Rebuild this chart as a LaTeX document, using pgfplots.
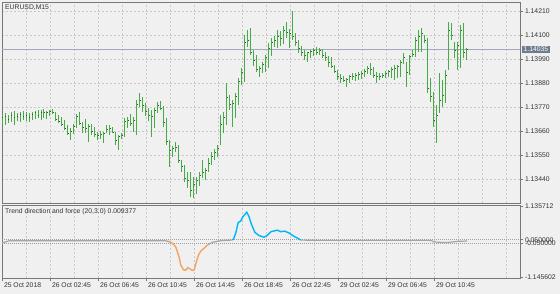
\documentclass[border=0pt]{standalone}
\usepackage{pgfplots}
\pgfplotsset{compat=1.18}
\usepackage{pgfplotstable}
\usepackage{fontspec}
\setmainfont{Liberation Sans}
\definecolor{bg}{RGB}{240,240,240}
\definecolor{gridc}{RGB}{200,200,200}
\definecolor{barc}{RGB}{70,170,70}
\definecolor{framec}{RGB}{120,120,120}
\definecolor{pricec}{RGB}{160,170,186}
\definecolor{boxc}{RGB}{112,124,142}
\definecolor{indgray}{RGB}{165,165,165}
\definecolor{indorange}{RGB}{244,164,96}
\definecolor{indblue}{RGB}{0,182,250}
\definecolor{textc}{RGB}{50,50,50}

\pgfplotstableread{
i H L C
0 1.13738 1.13692 1.13720
1 1.13743 1.13688 1.13729
2 1.13733 1.13697 1.13715
3 1.13747 1.13701 1.13733
4 1.13752 1.13688 1.13724
5 1.13743 1.13706 1.13729
6 1.13747 1.13701 1.13738
7 1.13752 1.13710 1.13729
8 1.13747 1.13706 1.13733
9 1.13743 1.13701 1.13724
10 1.13747 1.13710 1.13738
11 1.13752 1.13715 1.13743
12 1.13756 1.13720 1.13733
13 1.13756 1.13710 1.13747
14 1.13761 1.13720 1.13743
15 1.13752 1.13715 1.13747
16 1.13756 1.13729 1.13752
17 1.13761 1.13738 1.13743
18 1.13747 1.13706 1.13715
19 1.13733 1.13697 1.13706
20 1.13724 1.13683 1.13692
21 1.13710 1.13665 1.13674
22 1.13688 1.13642 1.13651
23 1.13674 1.13619 1.13660
24 1.13692 1.13646 1.13683
25 1.13738 1.13674 1.13729
26 1.13747 1.13688 1.13697
27 1.13701 1.13651 1.13678
28 1.13715 1.13651 1.13674
29 1.13692 1.13610 1.13683
30 1.13692 1.13642 1.13660
31 1.13678 1.13633 1.13646
32 1.13655 1.13619 1.13642
33 1.13660 1.13623 1.13646
34 1.13655 1.13605 1.13651
35 1.13688 1.13651 1.13669
36 1.13688 1.13642 1.13674
37 1.13678 1.13651 1.13655
38 1.13655 1.13596 1.13619
39 1.13642 1.13573 1.13633
40 1.13651 1.13623 1.13642
41 1.13720 1.13633 1.13706
42 1.13724 1.13674 1.13710
43 1.13738 1.13683 1.13697
44 1.13724 1.13655 1.13710
45 1.13802 1.13642 1.13784
46 1.13834 1.13770 1.13802
47 1.13816 1.13747 1.13775
48 1.13788 1.13729 1.13752
49 1.13765 1.13706 1.13733
50 1.13756 1.13633 1.13729
51 1.13765 1.13674 1.13756
52 1.13793 1.13743 1.13779
53 1.13797 1.13756 1.13765
54 1.13775 1.13678 1.13701
55 1.13720 1.13596 1.13610
56 1.13619 1.13495 1.13573
57 1.13591 1.13541 1.13582
58 1.13610 1.13564 1.13587
59 1.13596 1.13513 1.13523
60 1.13527 1.13472 1.13500
61 1.13504 1.13426 1.13445
62 1.13472 1.13399 1.13435
63 1.13472 1.13357 1.13390
64 1.13449 1.13353 1.13417
65 1.13449 1.13371 1.13435
66 1.13472 1.13408 1.13458
67 1.13527 1.13445 1.13472
68 1.13490 1.13435 1.13481
69 1.13536 1.13472 1.13513
70 1.13564 1.13504 1.13545
71 1.13578 1.13527 1.13564
72 1.13596 1.13541 1.13582
73 1.13733 1.13596 1.13688
74 1.13747 1.13651 1.13720
75 1.13880 1.13688 1.13816
76 1.13825 1.13756 1.13784
77 1.13802 1.13678 1.13788
78 1.13834 1.13720 1.13820
79 1.13903 1.13779 1.13885
80 1.13949 1.13871 1.13930
81 1.14100 1.13885 1.14068
82 1.14123 1.14045 1.14077
83 1.14132 1.14008 1.14022
84 1.14031 1.13958 1.13985
85 1.14008 1.13930 1.13940
86 1.13958 1.13908 1.13949
87 1.13976 1.13926 1.13967
88 1.14008 1.13930 1.13995
89 1.14063 1.13949 1.14040
90 1.14086 1.14004 1.14068
91 1.14095 1.14045 1.14077
92 1.14123 1.14040 1.14095
93 1.14118 1.14050 1.14086
94 1.14141 1.14059 1.14123
95 1.14160 1.14086 1.14114
96 1.14127 1.14040 1.14109
97 1.14210 1.14077 1.14095
98 1.14109 1.14050 1.14068
99 1.14077 1.14018 1.14040
100 1.14050 1.14004 1.14018
101 1.14031 1.13985 1.14008
102 1.14022 1.13976 1.14018
103 1.14031 1.13995 1.14027
104 1.14040 1.14004 1.14031
105 1.14045 1.14008 1.14022
106 1.14040 1.14008 1.14031
107 1.14036 1.13995 1.14008
108 1.14022 1.13981 1.13995
109 1.14004 1.13953 1.13976
110 1.13999 1.13949 1.13958
111 1.13963 1.13926 1.13935
112 1.13940 1.13894 1.13912
113 1.13921 1.13880 1.13903
114 1.13912 1.13885 1.13894
115 1.13903 1.13862 1.13898
116 1.13917 1.13880 1.13908
117 1.13926 1.13894 1.13912
118 1.13926 1.13889 1.13917
119 1.13930 1.13894 1.13921
120 1.13935 1.13898 1.13926
121 1.13944 1.13908 1.13935
122 1.13958 1.13921 1.13949
123 1.13972 1.13917 1.13940
124 1.13953 1.13903 1.13917
125 1.13930 1.13880 1.13908
126 1.13926 1.13894 1.13912
127 1.13926 1.13903 1.13917
128 1.13935 1.13903 1.13926
129 1.13940 1.13908 1.13935
130 1.13953 1.13903 1.13940
131 1.13963 1.13894 1.13949
132 1.13963 1.13903 1.13958
133 1.13985 1.13908 1.13976
134 1.14018 1.13967 1.13995
135 1.13976 1.13862 1.13930
136 1.14008 1.13917 1.14004
137 1.14031 1.13999 1.14013
138 1.14091 1.13999 1.14077
139 1.14123 1.14022 1.14095
140 1.14132 1.14022 1.14105
141 1.14100 1.14063 1.14077
142 1.14086 1.13834 1.13857
143 1.13903 1.13793 1.13820
144 1.13839 1.13678 1.13710
145 1.13779 1.13605 1.13733
146 1.13926 1.13743 1.13802
147 1.13894 1.13770 1.13825
148 1.13940 1.13788 1.13917
149 1.14160 1.13940 1.14123
150 1.14155 1.14077 1.14100
151 1.14068 1.13995 1.14031
152 1.14068 1.13940 1.14054
153 1.14146 1.13949 1.14123
154 1.14155 1.13995 1.14022
155 1.14040 1.13985 1.14035
}\bars

\begin{document}
\begin{tikzpicture}[font=\fontsize{6.8}{8}\selectfont]
\fill[bg] (0pt,0pt) rectangle (560pt,294pt);
\path[use as bounding box] (0pt,0pt) rectangle (560pt,294pt);

\begin{axis}[at={(2pt,91pt)}, anchor=south west, scale only axis,
  width=518pt, height=201pt,
  xmin=0, xmax=172.67, ymin=1.13330, ymax=1.142512,
  axis line style={framec, line width=0.8pt},
  xtick={0,8,...,168}, xticklabels={}, major x tick style={draw=none},
  ytick={1.1344,1.1355,1.1366,1.1377,1.1388,1.1399,1.1410,1.1421},
  yticklabels={1.13440,1.13550,1.13660,1.13770,1.13880,1.13990,1.14100,1.14210},
  ytick pos=right, yticklabel pos=right, tick align=outside, major tick length=3pt,
  major y tick style={framec, line width=0.6pt},
  y tick label style={anchor=west, xshift=-1.5pt, text=textc, font=\fontsize{6.8}{8}\selectfont},
  grid=major, grid style={gridc, dash pattern=on 2pt off 2pt, line width=0.6pt},
  clip=false]
\addplot[pricec, line width=1pt] coordinates {(0,1.14035) (172.67,1.14035)};
\addplot[only marks, mark=-, mark size=0.8pt, mark options={draw=barc!55!black, line width=0.8pt, xshift=0.4pt},
  error bars/.cd, y dir=both, y explicit, error mark=none,
  error bar style={draw=barc, solid, line width=1pt}]
  table[x=i, y=C, y error plus expr=\thisrow{H}-\thisrow{C}, y error minus expr=\thisrow{C}-\thisrow{L}] {\bars};
\node[anchor=north west, text=textc, inner sep=0pt] at (rel axis cs:0,1) [xshift=3pt, yshift=-2.5pt] {EURUSD,M15};
\node[fill=boxc, text=white, anchor=west, inner xsep=1.5pt, inner ysep=1.2pt] at (axis cs:172.67,1.14035) [xshift=2pt] {1.14035};
\end{axis}

\begin{axis}[at={(2pt,16pt)}, anchor=south west, scale only axis,
  width=518pt, height=73pt,
  xmin=0, xmax=172.67, ymin=-1.145602, ymax=1.135712,
  axis line style={framec, line width=0.8pt},
  xtick={0,16,...,144},
  xticklabels={25 Oct 2018,26 Oct 02:45,26 Oct 06:45,26 Oct 10:45,26 Oct 14:45,26 Oct 18:45,26 Oct 22:45,29 Oct 02:45,29 Oct 06:45,29 Oct 10:45},
  minor xtick={8,24,...,168},
  xtick pos=bottom, tick align=outside, major tick length=3pt, minor tick length=0pt,
  major tick style={framec, line width=0.6pt},
  x tick label style={anchor=north west, xshift=-1.5pt, yshift=1.5pt, text=textc, font=\fontsize{6.8}{8}\selectfont},
  xmajorgrids, xminorgrids, grid style={gridc, dash pattern=on 2pt off 2pt, line width=0.6pt},
  minor grid style={gridc, dash pattern=on 2pt off 2pt, line width=0.6pt},
  ytick={-0.05,0.05}, yticklabels={-0.050000,0.050000},
  extra y ticks={1.11,-1.12}, extra y tick labels={1.135712,-1.145602},
  ytick pos=right, yticklabel pos=right,
  y tick label style={anchor=west, xshift=-1.5pt, text=textc, font=\fontsize{6.8}{8}\selectfont},
  clip=false]
\addplot[gridc!80!black, dash pattern=on 1pt off 1pt, line width=0.6pt] coordinates {(0,0.05) (172.67,0.05)};
\addplot[gridc!80!black, dash pattern=on 1pt off 1pt, line width=0.6pt] coordinates {(0,-0.05) (172.67,-0.05)};
\addplot[indgray, line width=1.2pt] coordinates {(0,-0.05) (2.5,0.02) (54.5,0.02) (55.7,-0.01)};
\addplot[indorange, line width=1.4pt] coordinates {(55.7,-0.01) (56.8,-0.06) (57.9,-0.17) (59,-0.48) (59.6,-0.74) (60.5,-0.89) (61.3,-0.90) (61.9,-0.82) (62.6,-0.86) (63.5,-0.91) (64.1,-0.89) (64.6,-0.70) (65.4,-0.45) (66.2,-0.31) (67.3,-0.22) (68.3,-0.13) (69,-0.09)};
\addplot[indgray, line width=1.2pt] coordinates {(69,-0.09) (70.1,-0.03) (72.9,0.02) (76.8,0.04)};
\addplot[indblue, line width=1.4pt] coordinates {(76.8,0.04) (77.2,0.08) (77.9,0.25) (78.7,0.58) (79.6,0.64) (80.3,0.77) (81.6,0.91) (82.3,0.78) (83.2,0.52) (84.3,0.28) (85.7,0.18) (87.3,0.13) (88.5,0.19) (89.6,0.30) (91.8,0.35) (92.9,0.30) (94.2,0.32) (95.7,0.26) (97.1,0.17) (98.5,0.10) (99.6,0.04)};
\addplot[indgray, line width=1.2pt] coordinates {(99.6,0.04) (105,0.03) (120,0.03) (143,0.03) (144,-0.02) (148,-0.04) (150,-0.02) (152,0.0) (155,0.01)};
\node[anchor=north west, text=textc, inner sep=0pt] at (rel axis cs:0,1) [xshift=3pt, yshift=-3pt] {Trend direction and force (20,3.0) 0.009377};
\end{axis}
\end{tikzpicture}
\end{document}
